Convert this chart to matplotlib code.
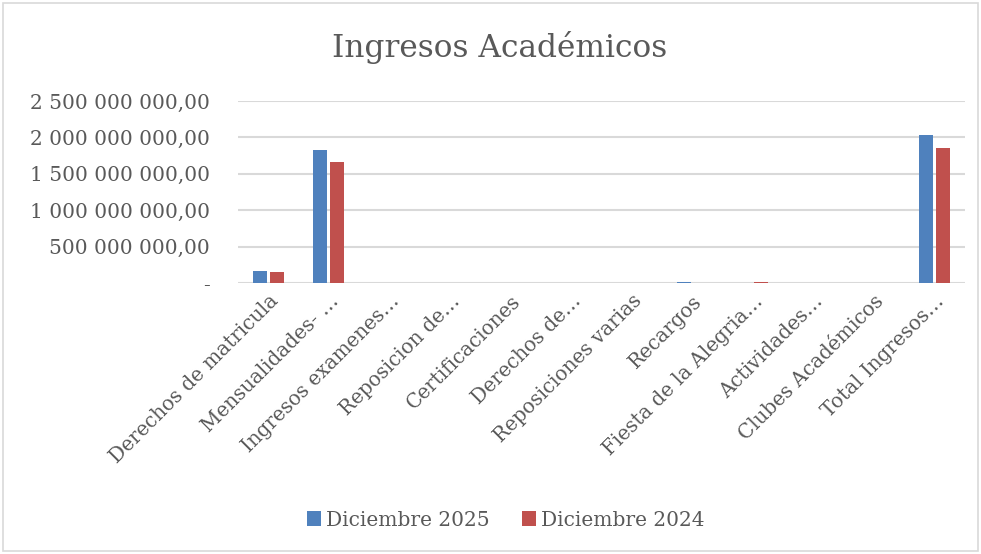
import matplotlib
matplotlib.use("Agg")
import matplotlib.pyplot as plt
import numpy as np
from matplotlib.patches import Rectangle

categories = ["Derechos de matricula", "Mensualidades- …", "Ingresos examenes…",
              "Reposicion de…", "Certificaciones", "Derechos de…",
              "Reposiciones varias", "Recargos", "Fiesta de la Alegria…",
              "Actividades…", "Clubes Académicos", "Total Ingresos…"]
dic_2025 = [165e6, 1830e6, 4e6, 0, 0, 3e6, 0, 8e6, 0, 0, 0, 2035e6]
dic_2024 = [150e6, 1665e6, 3e6, 0, 0, 3e6, 0, 5e6, 8e6, 0, 0, 1860e6]
series_names = ["Diciembre 2025", "Diciembre 2024"]
yticks = [0, 500e6, 1000e6, 1500e6, 2000e6, 2500e6]
ytick_labels = ["-", "500 000 000,00", "1 000 000 000,00", "1 500 000 000,00",
                "2 000 000 000,00", "2 500 000 000,00"]

blue = "#4F81BD"
red = "#C0504D"
txt = "#595959"
grid = "#D9D9D9"

plt.rcParams['font.family'] = ['DejaVu Serif']

fig = plt.figure(figsize=(9.81, 5.54), dpi=100)
W, H = 981, 554
ax = fig.add_axes([238 / W, 1 - 283 / H, (965 - 238) / W, (283 - 101) / H])

x = np.arange(len(categories))
bw = 0.23
off = 0.14
ax.bar(x - off, dic_2025, width=bw, color=blue, label=series_names[0], zorder=3)
ax.bar(x + off, dic_2024, width=bw, color=red, label=series_names[1], zorder=3)

ax.set_xlim(-0.5, len(categories) - 0.5)
ax.set_ylim(0, 2.5e9)
ax.set_yticks(yticks)
ax.set_yticklabels(ytick_labels, fontsize=14.5, color=txt)
ax.set_xticks(x)
ax.set_xticklabels(categories, rotation=45, ha='right', rotation_mode='anchor',
                   fontsize=14.3, color=txt)
ax.tick_params(axis='both', length=0)
ax.tick_params(axis='y', pad=20)
ax.tick_params(axis='x', pad=6)
ax.yaxis.grid(True, color=grid, linewidth=1.5, zorder=0)
ax.set_axisbelow(True)
for s in ax.spines.values():
    s.set_visible(False)

fig.text(500 / W, 1 - 48 / H, "Ingresos Académicos", ha='center', va='center',
         fontsize=22.5, color=txt)

handles, labels = ax.get_legend_handles_labels()
leg = fig.legend(handles, labels, loc='center', bbox_to_anchor=(506 / W, 1 - 520 / H),
                 ncol=2, frameon=False, fontsize=14.5, handlelength=0.7, handleheight=0.7,
                 handletextpad=0.25, columnspacing=1.6, labelcolor=txt)

fig.patches.append(Rectangle((3 / W, 3 / H), 975 / W, 548 / H, transform=fig.transFigure,
                             fill=False, edgecolor=grid, linewidth=1.2))

fig.savefig("out.png", dpi=100)
